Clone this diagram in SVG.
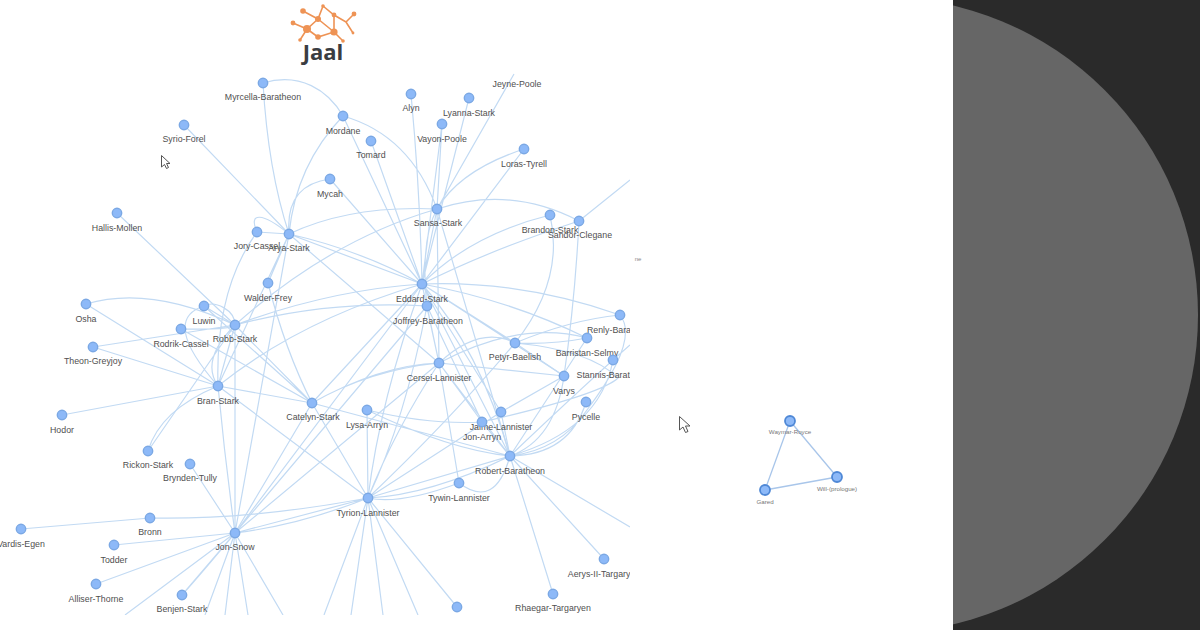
<svg xmlns="http://www.w3.org/2000/svg" width="1200" height="630" viewBox="0 0 1200 630">
<style>
.e{fill:none;stroke:#c2daf3;stroke-width:1.2}
.e2{fill:none;stroke:#a9c6ea;stroke-width:1.3}
.n{fill:#8db9f8;stroke:#7ba8e4;stroke-width:1.4}
.n2{fill:#8db9f8;stroke:#4f88d6;stroke-width:1.8}
text{font-family:"Liberation Sans",Arial,sans-serif}
.l{font-size:8.8px;fill:#505050;text-anchor:middle}
.s{font-size:6.2px;fill:#777;text-anchor:middle}
.o{stroke:#ee9355;stroke-width:1.6;fill:none}
.d{fill:#ee9355}
.c{fill:#fff;stroke:#555;stroke-width:1}
</style>
<defs><clipPath id="g"><rect x="0" y="0" width="630" height="615"/></clipPath></defs>
<rect width="1200" height="630" fill="#2a2a2a"/>
<circle cx="880" cy="315" r="318" fill="#666"/>
<rect width="953" height="630" fill="#fff"/>
<g id="logo">
<path class="o" d="M303,11L318,19L323,6L334,15L346,22L354,14M346,22L353,33M318,19L307,29L293,23M318,19L334,32L343,41M334,15L334,32L318,37L307,29L300,40"/>
<circle class="d" cx="303" cy="11" r="2.8"/><circle class="d" cx="323" cy="6" r="1.8"/><circle class="d" cx="318" cy="19" r="3"/><circle class="d" cx="334" cy="15" r="2.4"/><circle class="d" cx="354" cy="14" r="2.4"/><circle class="d" cx="293" cy="23" r="2.4"/><circle class="d" cx="307" cy="29" r="4"/><circle class="d" cx="318" cy="37" r="2.8"/><circle class="d" cx="334" cy="32" r="3.6"/><circle class="d" cx="300" cy="40" r="1.8"/><circle class="d" cx="343" cy="41" r="1.8"/><circle class="d" cx="353" cy="33" r="1.4"/>
<text x="323" y="60" font-size="22" font-weight="700" fill="#3a3d42" text-anchor="middle" style="font-family:'Open Sans',sans-serif">Jaal</text>
</g>
<g clip-path="url(#g)">
<g id="connectors">
<path class="e" d="M263,83Q268,170 289,234M263,83C300,72 328,90 343,116M343,116Q410,135 437,209M343,116Q296,165 289,234M343,116L422,284M371,141L422,284M411,94Q420,190 422,284M469,98L422,284M442,124L422,284M442,124L437,209M514,74L437,209M524,149Q460,170 437,209M524,149L422,284M330,179Q285,185 289,234M330,179L422,284M184,125L289,234M289,234Q350,205 437,209M437,209Q510,185 579,221M437,209L422,284M437,209Q420,240 427,306M437,209Q330,240 235,325M437,209L439,363M437,209L510,456M550,215Q470,235 422,284M550,215Q565,280 515,343M579,221Q490,250 422,284M579,221Q575,300 564,376M579,221L630,180M117,213L235,325"/>
<path class="e" d="M257,232L289,234M257,232C248,212 262,212 289,234M257,232Q215,290 218,386M289,234L422,284M289,234Q360,250 422,284M289,234L439,363M289,234L218,386M289,234L235,533M268,283L289,234M268,283Q285,350 312,403M204,306L235,325M204,306C215,300 235,310 235,325M204,306L312,403M204,306Q160,320 218,386M181,329Q230,330 235,325M181,329L312,403M86,304Q150,285 235,325M86,304L218,386M93,347L235,325M93,347L218,386M62,415L218,386M235,325Q330,290 422,284M235,325Q330,300 427,306M235,325L312,403M235,325Q225,360 218,386M235,325Q200,360 218,386M235,325L148,451M235,325L235,533"/>
<path class="e" d="M218,386L312,403M218,386Q300,320 422,284M218,386L368,498M218,386Q225,460 235,533M218,386Q160,410 148,451M190,464L235,533M312,403L422,284M312,403Q370,370 439,363M312,403Q380,365 439,363M312,403L510,456M312,403L235,533M312,403L368,498M367,410Q430,425 482,422M367,410Q450,450 510,456M367,410L368,498"/>
<path class="e" d="M422,284Q520,280 620,315M422,284Q510,300 587,338M422,284L515,343M422,284L564,376M422,284Q480,350 510,456M422,284L439,363M422,284L501,412M422,284L510,456M422,284Q380,400 368,498M422,284L235,533M427,306L439,363M427,306L482,422M427,306Q405,420 368,498M427,306L235,533M439,363Q480,325 515,343M439,363Q520,320 587,338M439,363L564,376M439,363L459,483M439,363L510,456M439,363L482,422M439,363Q395,430 368,498M439,363L235,533"/>
<path class="e" d="M515,343L564,376M515,343Q550,345 587,338M515,343Q450,420 368,498M515,343Q590,350 618,378Q600,395 482,422M620,315Q570,320 515,343M620,315Q640,340 587,410Q560,450 510,456M587,338L510,456M613,360Q600,430 510,456M630,345Q590,380 510,456M564,376Q555,440 510,456M586,402Q570,455 510,456M501,412L510,456M501,412L564,376M501,412L368,498M482,422L510,456M510,456L368,498M510,456Q430,495 368,498M510,456Q495,510 459,483M459,483Q400,505 368,498M510,456L553,594M510,456L604,559M510,456L630,527"/>
<path class="e" d="M368,498L235,533M368,498Q300,525 235,533M21,529L150,518M150,518Q250,520 368,498M114,545L235,533M96,584L235,533M182,595L235,533M182,595Q200,575 235,533M235,533L125,615M235,533L205,615M235,533L225,615M235,533L248,615M235,533L283,615M368,498L324,615M368,498L351,615M368,498L383,615M368,498L418,615M368,498L457,607"/>
</g>
<g id="graph-nodes">
<g id="n-myrcella"><circle class="n" cx="263" cy="83" r="4.7"/><text class="l" x="263" y="100">Myrcella-Baratheon</text></g>
<g id="n-mordane"><circle class="n" cx="343" cy="116" r="4.7"/><text class="l" x="343" y="134">Mordane</text></g>
<g id="n-syrio"><circle class="n" cx="184" cy="125" r="4.7"/><text class="l" x="184" y="142">Syrio-Forel</text></g>
<g id="n-tomard"><circle class="n" cx="371" cy="141" r="4.7"/><text class="l" x="371" y="158">Tomard</text></g>
<g id="n-alyn"><circle class="n" cx="411" cy="94" r="4.7"/><text class="l" x="411" y="111">Alyn</text></g>
<g id="n-lyanna"><circle class="n" cx="469" cy="98" r="4.7"/><text class="l" x="469" y="116">Lyanna-Stark</text></g>
<g id="n-vayon"><circle class="n" cx="442" cy="124" r="4.7"/><text class="l" x="442" y="142">Vayon-Poole</text></g>
<g id="n-jeyne"><text class="l" x="517" y="87">Jeyne-Poole</text></g>
<g id="n-loras"><circle class="n" cx="524" cy="149" r="4.7"/><text class="l" x="524" y="167">Loras-Tyrell</text></g>
<g id="n-mycah"><circle class="n" cx="330" cy="179" r="4.7"/><text class="l" x="330" y="197">Mycah</text></g>
<g id="n-sansa"><circle class="n" cx="437" cy="209" r="4.7"/><text class="l" x="438" y="226">Sansa-Stark</text></g>
<g id="n-brandon"><circle class="n" cx="550" cy="215" r="4.7"/><text class="l" x="550" y="233">Brandon-Stark</text></g>
<g id="n-sandor"><circle class="n" cx="579" cy="221" r="4.7"/><text class="l" x="580" y="238">Sandor-Clegane</text></g>
<g id="n-hallis"><circle class="n" cx="117" cy="213" r="4.7"/><text class="l" x="117" y="231">Hallis-Mollen</text></g>
<g id="n-jory"><circle class="n" cx="257" cy="232" r="4.7"/><text class="l" x="257" y="249">Jory-Cassel</text></g>
<g id="n-arya"><circle class="n" cx="289" cy="234" r="4.7"/><text class="l" x="289" y="251">Arya-Stark</text></g>
<g id="n-walder"><circle class="n" cx="268" cy="283" r="4.7"/><text class="l" x="268" y="301">Walder-Frey</text></g>
<g id="n-eddard"><circle class="n" cx="422" cy="284" r="4.7"/><text class="l" x="422" y="302">Eddard-Stark</text></g>
<g id="n-joffrey"><circle class="n" cx="427" cy="306" r="4.7"/><text class="l" x="428" y="324">Joffrey-Baratheon</text></g>
<g id="n-osha"><circle class="n" cx="86" cy="304" r="4.7"/><text class="l" x="86" y="322">Osha</text></g>
<g id="n-luwin"><circle class="n" cx="204" cy="306" r="4.7"/><text class="l" x="204" y="324">Luwin</text></g>
<g id="n-robb"><circle class="n" cx="235" cy="325" r="4.7"/><text class="l" x="235" y="342">Robb-Stark</text></g>
<g id="n-rodrik"><circle class="n" cx="181" cy="329" r="4.7"/><text class="l" x="181" y="347">Rodrik-Cassel</text></g>
<g id="n-theon"><circle class="n" cx="93" cy="347" r="4.7"/><text class="l" x="93" y="364">Theon-Greyjoy</text></g>
<g id="n-renly"><circle class="n" cx="620" cy="315" r="4.7"/><text class="l" x="620" y="333">Renly-Baratheon</text></g>
<g id="n-barristan"><circle class="n" cx="587" cy="338" r="4.7"/><text class="l" x="587" y="356">Barristan-Selmy</text></g>
<g id="n-petyr"><circle class="n" cx="515" cy="343" r="4.7"/><text class="l" x="515" y="360">Petyr-Baelish</text></g>
<g id="n-stannis"><circle class="n" cx="613" cy="360" r="4.7"/><text class="l" x="613" y="378">Stannis-Baratheon</text></g>
<g id="n-cersei"><circle class="n" cx="439" cy="363" r="4.7"/><text class="l" x="439" y="381">Cersei-Lannister</text></g>
<g id="n-varys"><circle class="n" cx="564" cy="376" r="4.7"/><text class="l" x="564" y="394">Varys</text></g>
<g id="n-bran"><circle class="n" cx="218" cy="386" r="4.7"/><text class="l" x="218" y="404">Bran-Stark</text></g>
<g id="n-pycelle"><circle class="n" cx="586" cy="402" r="4.7"/><text class="l" x="586" y="420">Pycelle</text></g>
<g id="n-catelyn"><circle class="n" cx="312" cy="403" r="4.7"/><text class="l" x="313" y="420">Catelyn-Stark</text></g>
<g id="n-lysa"><circle class="n" cx="367" cy="410" r="4.7"/><text class="l" x="367" y="428">Lysa-Arryn</text></g>
<g id="n-jaime"><circle class="n" cx="501" cy="412" r="4.7"/><text class="l" x="501" y="430">Jaime-Lannister</text></g>
<g id="n-jonarryn"><circle class="n" cx="482" cy="422" r="4.7"/><text class="l" x="482" y="440">Jon-Arryn</text></g>
<g id="n-hodor"><circle class="n" cx="62" cy="415" r="4.7"/><text class="l" x="62" y="433">Hodor</text></g>
<g id="n-rickon"><circle class="n" cx="148" cy="451" r="4.7"/><text class="l" x="148" y="468">Rickon-Stark</text></g>
<g id="n-brynden"><circle class="n" cx="190" cy="464" r="4.7"/><text class="l" x="190" y="481">Brynden-Tully</text></g>
<g id="n-robert"><circle class="n" cx="510" cy="456" r="4.7"/><text class="l" x="510" y="474">Robert-Baratheon</text></g>
<g id="n-tywin"><circle class="n" cx="459" cy="483" r="4.7"/><text class="l" x="459" y="501">Tywin-Lannister</text></g>
<g id="n-tyrion"><circle class="n" cx="368" cy="498" r="4.7"/><text class="l" x="368" y="516">Tyrion-Lannister</text></g>
<g id="n-bronn"><circle class="n" cx="150" cy="518" r="4.7"/><text class="l" x="150" y="535">Bronn</text></g>
<g id="n-vardis"><circle class="n" cx="21" cy="529" r="4.7"/><text class="l" x="21" y="547">Vardis-Egen</text></g>
<g id="n-jon"><circle class="n" cx="235" cy="533" r="4.7"/><text class="l" x="235" y="550">Jon-Snow</text></g>
<g id="n-todder"><circle class="n" cx="114" cy="545" r="4.7"/><text class="l" x="114" y="563">Todder</text></g>
<g id="n-aerys"><circle class="n" cx="604" cy="559" r="4.7"/><text class="l" x="604" y="577">Aerys-II-Targaryen</text></g>
<g id="n-alliser"><circle class="n" cx="96" cy="584" r="4.7"/><text class="l" x="96" y="602">Alliser-Thorne</text></g>
<g id="n-benjen"><circle class="n" cx="182" cy="595" r="4.7"/><text class="l" x="182" y="612">Benjen-Stark</text></g>
<g id="n-rhaegar"><circle class="n" cx="553" cy="594" r="4.7"/><text class="l" x="553" y="611">Rhaegar-Targaryen</text></g>
<g id="n-unnamed"><circle class="n" cx="457" cy="607" r="4.7"/></g>
</g>
</g>
<text x="638" y="261" font-size="6" fill="#888" text-anchor="middle">ne</text>
<g id="small-connectors">
<path class="e2" d="M790,421L765,490M790,421L837,477M765,490L837,477"/>
</g>
<g id="waymar"><circle class="n2" cx="790" cy="421" r="5"/><text class="s" x="790" y="434">Waymar-Royce</text></g>
<g id="will"><circle class="n2" cx="837" cy="477" r="5"/><text class="s" x="837" y="491">Will-(prologue)</text></g>
<g id="gared"><circle class="n2" cx="765" cy="490" r="5"/><text class="s" x="765" y="504">Gared</text></g>
<path class="c" d="M161.500,155.500V167L164.500,164.500L166.500,168.500L168.500,167.500L166.500,163.500H170Z"/>
<path class="c" d="M679.500,416.500V430L683,427L685.500,432.500L688,431.500L685.500,426H690Z"/>
</svg>
